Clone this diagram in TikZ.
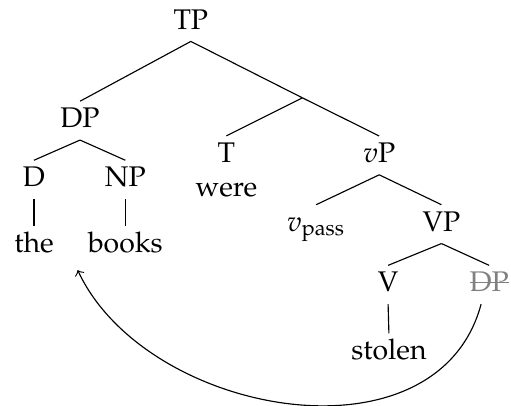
\documentclass[tikz,border=0pt]{standalone}
\usepackage[T1]{fontenc}
\usepackage{mathpazo}
\usepackage{tikz}
\usepackage{xcolor}
\newcommand{\crossout}[1]{\setbox0\hbox{#1}\rlap{\rule[3.2pt]{\wd0}{0.4pt}}\box0}

\begin{document}
\begin{tikzpicture}[every node/.style={anchor=base,text height=5.8pt,text depth=0.8pt}]
\useasboundingbox (0,0) rectangle (6.32,5.02);
\node (tp) at (2.36,4.66) {TP};
\node (dp) at (0.99,3.44) {DP};
\node (d) at (0.42,2.71) {D};
\node (np) at (1.55,2.71) {NP};
\node (the) at (0.42,1.90) {the};
\node (books) at (1.55,1.90) {books};
\coordinate (tbar) at (3.74,3.81);
\node[align=center,text height=17.8pt] (t) at (2.80,2.59) {T\\were};
\node (vp) at (4.69,3.01) {$v$P};
\node (vpass) at (3.91,2.16) {$v_{\mathrm{pass}}$};
\node (bigvp) at (5.46,2.16) {VP};
\node (v) at (4.80,1.41) {V};
\node (dpt) at (6.05,1.41) {\color{gray}\crossout{DP}};
\node (stolen) at (4.81,0.57) {stolen};
\coordinate (landing) at (0.96,1.68);
\draw (tp.south) -- (dp.north);
\draw (tp.south) -- (tbar);
\draw (dp.south) -- (d.north);
\draw (dp.south) -- (np.north);
\draw (d.south) -- (the.north);
\draw (np.south) -- (books.north);
\draw (tbar) -- (t.north);
\draw (tbar) -- (vp.north);
\draw (vp.south) -- (vpass.north);
\draw (vp.south) -- (bigvp.north);
\draw (bigvp.south) -- (v.north);
\draw (bigvp.south) -- (dpt.north);
\draw (v.south) -- (stolen.north);
\draw[->] ([xshift=-0.1cm]dpt.south) .. controls +(255:2.1) and +(-65:2) .. (landing);
\end{tikzpicture}
\end{document}
